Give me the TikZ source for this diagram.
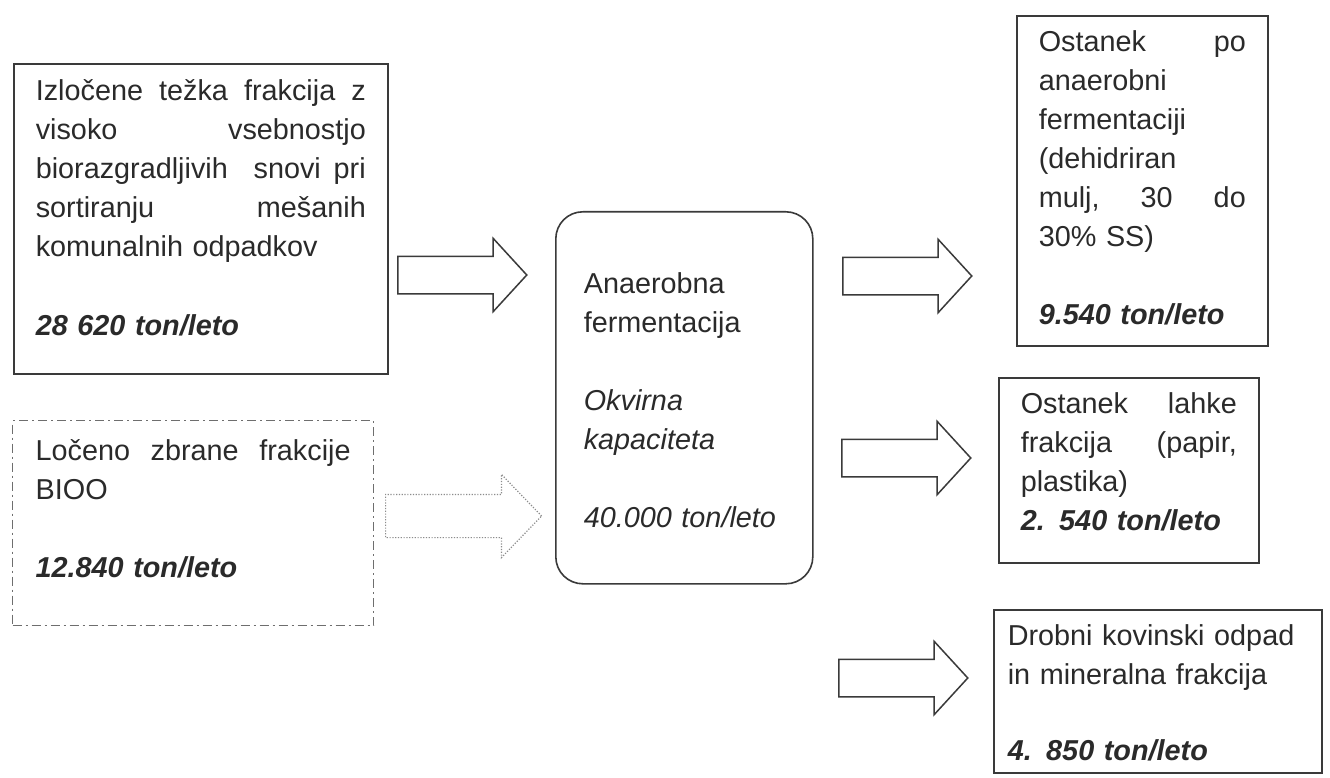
\documentclass[tikz,border=0pt]{standalone}
\usepackage{fontspec}
\setmainfont{Liberation Sans}
\usetikzlibrary{shapes.arrows,positioning}
\definecolor{ScanInk}{HTML}{3A3A3A}
\definecolor{ScanText}{HTML}{2A2A2A}
\definecolor{ScanGrey}{HTML}{6E6E6E}
\definecolor{ScanDots}{HTML}{8C8C8C}
\newcommand{\topgap}[1]{\rule{0pt}{#1}}
\newcommand{\botgap}[1]{\rule[-#1]{0pt}{#1}}
\newcommand{\amount}[1]{\textbf{\textit{#1}}}

\begin{document}
\begin{tikzpicture}[x=1pt,y=-1pt,font=\fontsize{28.8}{39}\selectfont,
        wastebox/.style={draw=ScanInk, line width=1.6pt, anchor=north west,
          align=left, inner ysep=0pt, text=ScanText},
        feedarrow/.style={single arrow, draw=ScanInk, line width=1.5pt,
          inner xsep=0pt, inner ysep=18pt, anchor=tail, minimum height=129pt,
          minimum width=72pt, single arrow head extend=18pt,
          single arrow tip angle=95}]
        \fill[white] (0,0) rectangle (1330,778);
        \useasboundingbox (0,0) rectangle (1330,778);

        \node[wastebox, inner xsep=22pt, text width=330pt] (heavy) at (13,63)
          {\topgap{37pt}Izločene\hfill težka\hfill frakcija\hfill z\\
           visoko\hfill vsebnostjo\\
           biorazgradljivih\hfill\hfill snovi\hfill pri\\
           sortiranju\hfill mešanih\\
           komunalnih odpadkov\\[40pt]
           \amount{28 620 ton/leto}\botgap{38pt}};

        \node[wastebox, draw=ScanGrey, line width=1.3pt,
          dash pattern=on 9pt off 4pt on 2pt off 4pt,
          inner xsep=23pt, text width=315pt] (bioo) at (12,420)
          {\topgap{40pt}Ločeno\hfill zbrane\hfill frakcije\\
           BIOO\\[39pt]
           \amount{12.840 ton/leto}\botgap{48pt}};

        \node[wastebox, rounded corners=27pt, inner xsep=28pt,
          text width=201pt] (digester) at (555,211)
          {\topgap{82pt}Anaerobna\\
           fermentacija\\[39pt]
           \textit{Okvirna}\\
           \textit{kapaciteta}\\[39pt]
           \textit{40.000 ton/leto}\botgap{56pt}};

        \node[wastebox, inner xsep=22pt, text width=207pt] (digestate) at (1016,15)
          {\topgap{36pt}Ostanek\hfill po\\
           anaerobni\\
           fermentaciji\\
           (dehidriran\\
           mulj,\hfill 30\hfill do\\
           30\% SS)\\[39pt]
           \amount{9.540 ton/leto}\botgap{21pt}};

        \node[wastebox, inner xsep=22pt, text width=216pt] (light) at (998,377)
          {\topgap{36pt}Ostanek\hfill lahke\\
           frakcija\hfill (papir,\\
           plastika)\\
           \amount{2. 540 ton/leto}\botgap{32pt}};

        \node[wastebox, inner xsep=14pt, text width=300pt] (mineral) at (993,609)
          {\topgap{36pt}Drobni kovinski odpad\\
           in mineralna frakcija\\[37pt]
           \amount{4. 850 ton/leto}\botgap{12pt}};

        \node[feedarrow] (feedheavy) at (397,275) {};
        \node[feedarrow, draw=ScanDots, line width=1.2pt,
          dash pattern=on 1.2pt off 1.6pt, minimum height=156pt,
          inner ysep=21pt, minimum width=82pt, single arrow head extend=20pt,
          single arrow tip angle=92] (feedbioo) at (385,516) {};
        \node[feedarrow] (outdigestate) at (842,276) {};
        \node[feedarrow] (outlight) at (841,458) {};
        \node[feedarrow] (outmineral) at (838,678) {};
      \end{tikzpicture}
\end{document}
